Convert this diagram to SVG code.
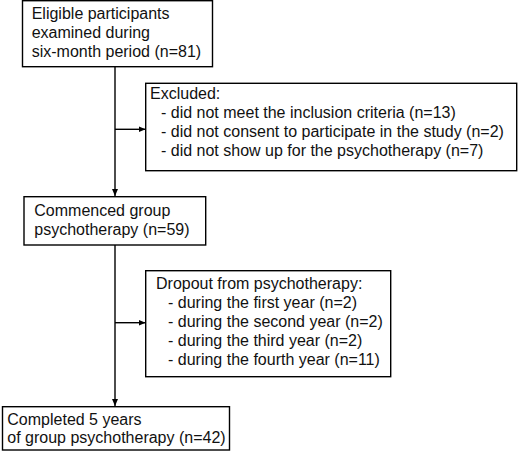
<svg xmlns="http://www.w3.org/2000/svg" width="518" height="451" viewBox="0 0 518 451">
<style>
.b{fill:#fff;stroke:#000;stroke-width:1.4}
text{font-family:"Liberation Sans",Arial,sans-serif;font-size:16px;fill:#111}
.c{stroke:#000;stroke-width:1.4;fill:none}
</style>
<defs>
<marker id="a" markerWidth="8" markerHeight="8" refX="7" refY="4" orient="auto" markerUnits="userSpaceOnUse">
<path d="M0,1 L7,4 L0,7 Z" fill="#000"/>
</marker>
</defs>
<rect width="518" height="451" fill="#fff"/>
<g id="connectors">
<path class="c" d="M115,67 V196" marker-end="url(#a)"/>
<path class="c" d="M115,129.3 H145.5" marker-end="url(#a)"/>
<path class="c" d="M115,245 V406" marker-end="url(#a)"/>
<path class="c" d="M115,322.7 H145.5" marker-end="url(#a)"/>
</g>
<g id="n1">
<rect class="b" x="22.5" y="0.7" width="190" height="66"/>
<text x="31.7" y="19">Eligible participants</text>
<text x="31.7" y="38">examined during</text>
<text x="31.7" y="57">six-month period (n=81)</text>
</g>
<g id="n2">
<rect class="b" x="145.7" y="83.3" width="371" height="87.4"/>
<text x="150" y="99">Excluded:</text>
<text x="161" y="118">- did not meet the inclusion criteria (n=13)</text>
<text x="161" y="137">- did not consent to participate in the study (n=2)</text>
<text x="161" y="156">- did not show up for the psychotherapy (n=7)</text>
</g>
<g id="n3">
<rect class="b" x="24" y="196.7" width="181.7" height="48.3"/>
<text x="34.3" y="216">Commenced group</text>
<text x="34.3" y="235">psychotherapy (n=59)</text>
</g>
<g id="n4">
<rect class="b" x="145.7" y="270.7" width="245" height="106"/>
<text x="156" y="289">Dropout from psychotherapy:</text>
<text x="168" y="308">- during the first year (n=2)</text>
<text x="168" y="327">- during the second year (n=2)</text>
<text x="168" y="346">- during the third year (n=2)</text>
<text x="168" y="365">- during the fourth year (n=11)</text>
</g>
<g id="n5">
<rect class="b" x="2.5" y="406.7" width="227" height="43.3"/>
<text x="7.3" y="424.5">Completed 5 years</text>
<text x="7.3" y="443.3">of group psychotherapy (n=42)</text>
</g>
</svg>
